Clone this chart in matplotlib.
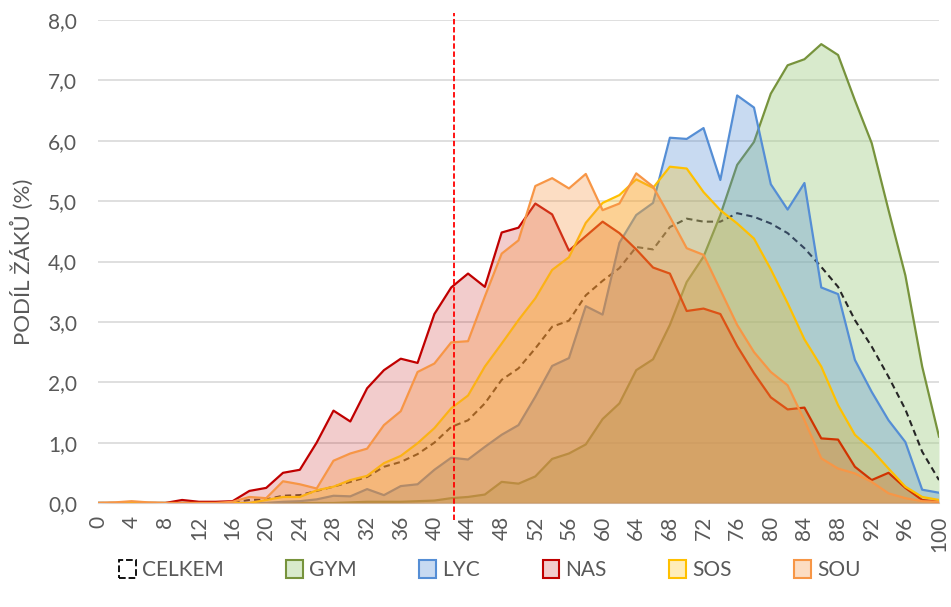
import matplotlib.pyplot as plt
from matplotlib.colors import to_rgb
from matplotlib.patches import Patch

# body (x) categories 0..100 in steps of 2
body = list(range(0, 101, 2))

celkem = [0, 0, 0, 0, 0, 0, 0, 0, 0.01, 0.05, 0.06, 0.12, 0.13, 0.2, 0.27, 0.35,
          0.43, 0.6, 0.68, 0.81, 1.0, 1.26, 1.37, 1.65, 2.04, 2.23, 2.56, 2.92, 3.02,
          3.44, 3.68, 3.89, 4.24, 4.2, 4.57, 4.71, 4.66, 4.66, 4.8, 4.74, 4.63, 4.47,
          4.22, 3.91, 3.58, 3.03, 2.59, 2.09, 1.55, 0.85, 0.38]
gym = [0, 0, 0, 0, 0, 0, 0, 0, 0, 0, 0, 0, 0, 0, 0, 0.01,
       0.02, 0.02, 0.02, 0.03, 0.04, 0.08, 0.1, 0.14, 0.35, 0.32, 0.44, 0.73, 0.82,
       0.97, 1.39, 1.65, 2.2, 2.38, 2.95, 3.66, 4.08, 4.77, 5.6, 5.98, 6.78, 7.25,
       7.35, 7.6, 7.42, 6.67, 5.96, 4.85, 3.77, 2.26, 1.1]
lyc = [0, 0, 0, 0, 0, 0, 0, 0, 0, 0, 0, 0.02, 0.03, 0.06, 0.12, 0.11,
       0.23, 0.13, 0.28, 0.31, 0.55, 0.75, 0.72, 0.93, 1.13, 1.29, 1.76, 2.27, 2.4,
       3.26, 3.12, 4.31, 4.77, 4.97, 6.05, 6.03, 6.21, 5.35, 6.75, 6.55, 5.28, 4.86,
       5.3, 3.57, 3.46, 2.37, 1.84, 1.37, 1.01, 0.22, 0.17]
nas = [0, 0, 0, 0, 0, 0.05, 0.02, 0.02, 0.03, 0.2, 0.25, 0.5, 0.55, 1.0, 1.53, 1.35,
       1.9, 2.2, 2.39, 2.32, 3.13, 3.57, 3.8, 3.58, 4.48, 4.56, 4.96, 4.78, 4.18,
       4.42, 4.66, 4.47, 4.2, 3.9, 3.8, 3.18, 3.22, 3.13, 2.6, 2.15, 1.75, 1.55,
       1.58, 1.07, 1.05, 0.6, 0.38, 0.5, 0.25, 0.05, 0.02]
sos = [0, 0, 0, 0, 0, 0, 0, 0, 0, 0, 0.05, 0.1, 0.1, 0.21, 0.27, 0.38,
       0.45, 0.66, 0.78, 0.99, 1.24, 1.57, 1.78, 2.26, 2.64, 3.03, 3.39, 3.86, 4.07,
       4.64, 4.97, 5.1, 5.36, 5.22, 5.57, 5.54, 5.15, 4.85, 4.63, 4.38, 3.87, 3.31,
       2.71, 2.26, 1.62, 1.13, 0.88, 0.57, 0.27, 0.1, 0.05]
sou = [0, 0.01, 0.03, 0.01, 0, 0, 0, 0, 0.02, 0.1, 0.08, 0.36, 0.31, 0.24, 0.7, 0.82,
       0.9, 1.29, 1.52, 2.17, 2.31, 2.66, 2.68, 3.42, 4.13, 4.35, 5.25, 5.38, 5.21,
       5.45, 4.85, 4.96, 5.46, 5.24, 4.74, 4.22, 4.11, 3.53, 2.95, 2.5, 2.17, 1.95,
       1.37, 0.74, 0.57, 0.49, 0.35, 0.16, 0.08, 0.03, 0.02]

hranice = 42.3

plt.rcParams['font.family'] = ['Lato', 'DejaVu Sans']
sed = '#595959'

fig = plt.figure(figsize=(9.51, 6.07), dpi=100)
ax = fig.add_axes([98/951, 1 - 503/607, (939-98)/951, (503-20)/607])

ax.plot(body, celkem, color='#262626', lw=1.5, ls=(0, (3, 2)), zorder=3)

# (name, values, line colour, fill colour, fill alpha)
serie = [('GYM', gym, '#77933C', '#A9D18E', 0.45),
         ('LYC', lyc, '#558ED5', '#558ED5', 0.32),
         ('NAS', nas, '#C00000', '#C00000', 0.2),
         ('SOS', sos, '#FFC000', '#FFC000', 0.27),
         ('SOU', sou, '#F79646', '#F79646', 0.32)]
handles = [Patch(facecolor='white', edgecolor='black', linestyle='--', lw=1.3, label='CELKEM')]
for i, (nazev, y, c, fc, a) in enumerate(serie):
    ax.fill_between(body, 0, y, color=fc, alpha=a, lw=0, zorder=2 + 2*i)
    ax.plot(body, y, color=c, lw=1.6, zorder=3 + 2*i)
    handles.append(Patch(facecolor=(*to_rgb(fc), a), edgecolor=c, lw=1.5, label=nazev))

ax.plot([hranice, hranice], [-0.28, 8.12], color='#FF0000', lw=1.3,
        ls=(0, (3, 1.5)), clip_on=False, zorder=20)

ax.set_xlim(0, 100)
ax.set_ylim(0, 8)
ax.set_xticks(range(0, 101, 4))
ax.set_xticklabels([str(v) for v in range(0, 101, 4)], rotation=90, fontsize=15, color=sed)
ax.set_yticks(range(0, 9))
ax.set_yticklabels([f'{v},0' for v in range(0, 9)], fontsize=15, color=sed)
ax.tick_params(axis='y', length=0, pad=15)
ax.tick_params(axis='x', length=0, pad=9)
ax.grid(axis='y', color='#D9D9D9', lw=1.2, zorder=0)
ax.set_axisbelow(True)
for s in ['top', 'right', 'left']:
    ax.spines[s].set_visible(False)
ax.spines['bottom'].set_color('#D9D9D9')
ax.set_ylabel('PODÍL ŽÁKŮ (%)', fontsize=16, color=sed, labelpad=10)

fig.legend(handles=handles, loc='center', bbox_to_anchor=(490/951, 1 - 570/607), ncol=6,
           frameon=False, fontsize=15, handlelength=0.8, handleheight=1.0,
           handletextpad=0.3, columnspacing=3.0, labelcolor=sed)

fig.savefig('out.png', dpi=100)
